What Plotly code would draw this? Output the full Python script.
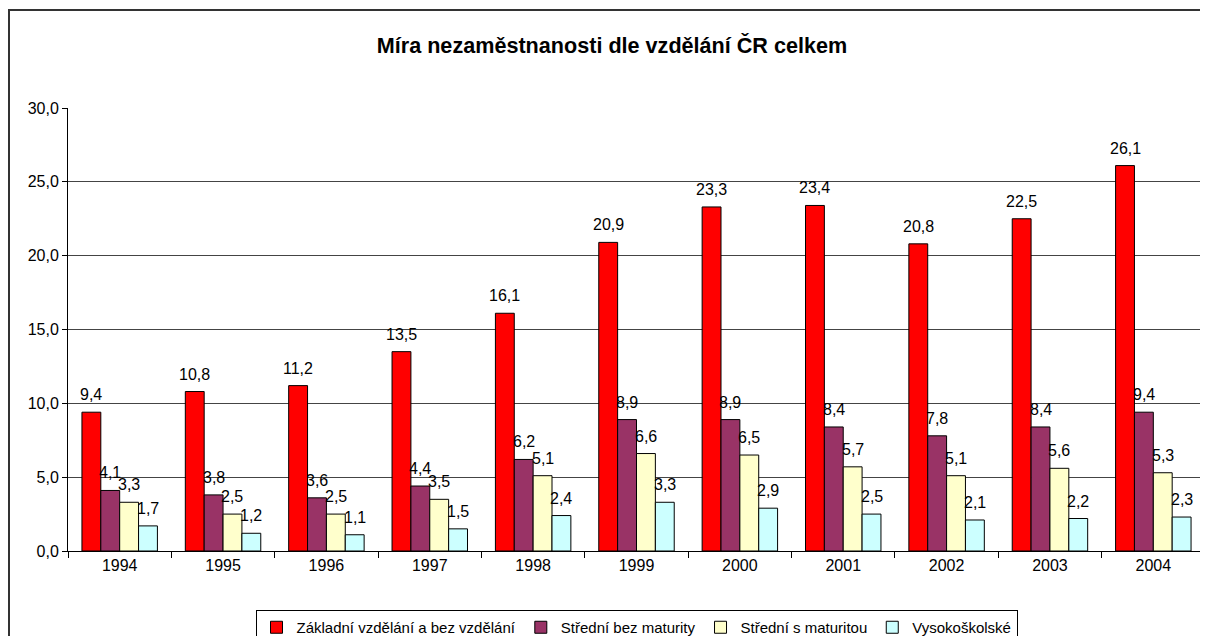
import plotly.graph_objects as go

years = ["1994", "1995", "1996", "1997", "1998", "1999", "2000", "2001", "2002", "2003", "2004"]
zakladni = [9.4, 10.8, 11.2, 13.5, 16.1, 20.9, 23.3, 23.4, 20.8, 22.5, 26.1]
stredni_bez = [4.1, 3.8, 3.6, 4.4, 6.2, 8.9, 8.9, 8.4, 7.8, 8.4, 9.4]
stredni_s = [3.3, 2.5, 2.5, 3.5, 5.1, 6.6, 6.5, 5.7, 5.1, 5.6, 5.3]
vysokoskolske = [1.7, 1.2, 1.1, 1.5, 2.4, 3.3, 2.9, 2.5, 2.1, 2.2, 2.3]

series_names = ["Základní vzdělání a bez vzdělání", "Střední bez maturity",
                "Střední s maturitou", "Vysokoškolské"]
series_values = [zakladni, stredni_bez, stredni_s, vysokoskolske]
colors = ["#FF0000", "#993366", "#FFFFCC", "#CCFFFF"]

title_text = "Míra nezaměstnanosti dle vzdělání ČR celkem"

W, H = 1208, 636
ML, MR, MT, MB = 60, 11, 100, 93
BARGAP = 0.27
FONT = "Liberation Sans, Arial, sans-serif"

fig = go.Figure()
for name, vals, col in zip(series_names, series_values, colors):
    fig.add_trace(go.Bar(
        x=years, y=vals, name=name,
        marker=dict(color=col, line=dict(color="#000000", width=1)),
    ))

# data labels above each bar (x given as category index)
plot_w = W - ML - MR
plot_h = H - MT - MB
step_px = plot_w / len(years)
bar_px = step_px * (1 - BARGAP) / len(series_values)
for i, vals in enumerate(series_values):
    shift = (i - (len(series_values) - 1) / 2) * bar_px
    for j, v in enumerate(vals):
        fig.add_annotation(
            x=j, y=v, xref="x", yref="y",
            text=f"{v:.1f}".replace(".", ","),
            showarrow=False, xshift=shift, yshift=7,
            xanchor="center", yanchor="bottom",
            font=dict(family=FONT, size=16, color="#000000"),
        )

# outer chart border around the whole figure
fig.add_shape(
    type="rect", xref="paper", yref="paper",
    x0=(1 - ML) / plot_w, x1=(W - 1 - ML) / plot_w,
    y0=-(MB - 1) / plot_h, y1=1 + (MT - 2) / plot_h,
    line=dict(color="#333333", width=2), fillcolor="rgba(0,0,0,0)", layer="below",
)

fig.update_layout(
    width=W, height=H,
    margin=dict(l=ML, r=MR, t=MT, b=MB, autoexpand=False),
    paper_bgcolor="white", plot_bgcolor="white",
    barmode="group", bargap=BARGAP, bargroupgap=0,
    separators=", ",
    font=dict(family=FONT, size=16, color="#000000"),
    title=dict(text=f"<b>{title_text}</b>", x=0.5, xref="container", xanchor="center",
               y=1 - 37 / H, yref="container", yanchor="middle",
               font=dict(family=FONT, size=21.6, color="#000000")),
    xaxis=dict(type="category", range=[-0.5, len(years) - 0.5], automargin=False,
               showline=True, linecolor="#000000", linewidth=1,
               ticks="outside", tickson="boundaries", ticklen=6, tickcolor="#000000",
               showgrid=False, tickangle=0, tickfont=dict(size=16)),
    yaxis=dict(range=[0, 30], dtick=5, tickformat=".1f", automargin=False, showline=True,
               linecolor="#000000", linewidth=1, ticks="outside", ticklen=5,
               tickcolor="#000000", showgrid=True, gridcolor="#444444", gridwidth=1,
               zeroline=False, tickfont=dict(size=16)),
    showlegend=True,
    legend=dict(orientation="h", x=0.5, xanchor="center", xref="paper",
                y=1 - 602 / H, yref="container", yanchor="top",
                bordercolor="#000000", borderwidth=1, bgcolor="white",
                font=dict(family=FONT, size=15), itemwidth=30,
                tracegroupgap=0),
)

fig.write_html("out.html")
